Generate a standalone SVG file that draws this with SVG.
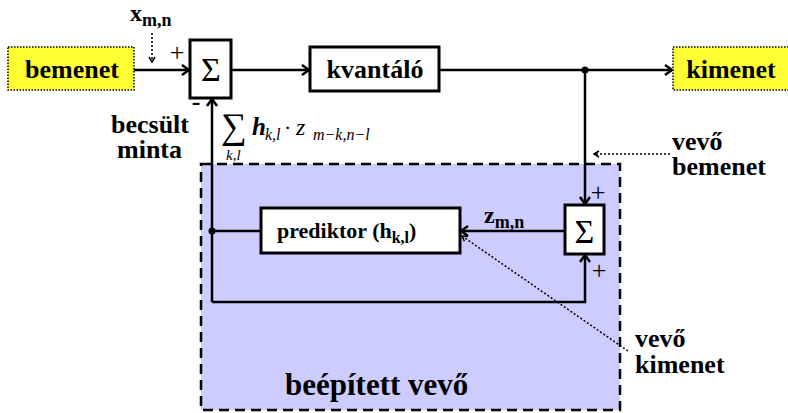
<svg xmlns="http://www.w3.org/2000/svg" width="788" height="413" viewBox="0 0 788 413">
<defs>
<style>
.lbl{font-family:'Liberation Serif','Times New Roman',serif;font-weight:bold;fill:#000}
.sig{font-family:'Liberation Serif','Times New Roman',serif;fill:#000}
.math{font-family:'Liberation Serif','Times New Roman',serif;font-style:italic;fill:#000}
.box{fill:#fff;stroke:#000;stroke-width:3}
.io{fill:#ffff33;stroke:#000;stroke-width:1.5;stroke-dasharray:1.5,1.5}
.ln{fill:none;stroke:#000;stroke-width:2.5}
.dot{fill:none;stroke:#000;stroke-width:1.5;stroke-dasharray:2,2}
</style>
<marker id="arr" markerUnits="userSpaceOnUse" markerWidth="12" markerHeight="14" refX="8" refY="6" orient="auto">
<path d="M1,1 L8,6 L1,11" fill="none" stroke="#000" stroke-width="2.5"/>
</marker>
<marker id="arrs" markerUnits="userSpaceOnUse" markerWidth="10" markerHeight="10" refX="6" refY="4" orient="auto">
<path d="M1,1 L6,4 L1,7" fill="none" stroke="#000" stroke-width="1.5"/>
</marker>
</defs>

<g id="receiver">
<rect x="201" y="164" width="419" height="246" fill="#ccccff" stroke="#000" stroke-width="2.5" stroke-dasharray="10,6"/>
<text class="lbl" x="285" y="395" font-size="31">beépített vevő</text>
</g>

<g id="connectors">
<line class="ln" x1="134" y1="70" x2="189" y2="70" marker-end="url(#arr)"/>
<line class="ln" x1="231" y1="70" x2="309" y2="70" marker-end="url(#arr)"/>
<line class="ln" x1="439" y1="70" x2="672" y2="70" marker-end="url(#arr)"/>
<polyline class="ln" points="585,70 585,204" marker-end="url(#arr)"/>
<line class="ln" x1="565" y1="231" x2="461" y2="231" marker-end="url(#arr)"/>
<line class="ln" x1="261" y1="231" x2="212" y2="231"/>
<polyline class="ln" points="212,302 212,99" marker-end="url(#arr)"/>
<polyline class="ln" points="212,302 585,302 585,255" marker-end="url(#arr)"/>
<circle cx="585" cy="70" r="3.5" fill="#000"/>
<circle cx="212" cy="231" r="3.5" fill="#000"/>
<line class="dot" x1="152" y1="33" x2="152" y2="62" marker-end="url(#arrs)"/>
<line class="dot" x1="670" y1="154" x2="594" y2="154" marker-end="url(#arrs)"/>
<line class="dot" x1="628" y1="351" x2="462" y2="236" marker-end="url(#arrs)"/>
</g>

<g id="bemenet">
<rect class="io" x="8" y="47" width="126" height="43"/>
<text class="lbl" x="72" y="78" font-size="26" text-anchor="middle">bemenet</text>
</g>

<g id="kimenet">
<rect class="io" x="673" y="47" width="125" height="43"/>
<text class="lbl" x="731" y="78" font-size="26" text-anchor="middle">kimenet</text>
</g>

<g id="sum1">
<rect class="box" x="190" y="40" width="41" height="58"/>
<text class="sig" x="211" y="81" font-size="34" text-anchor="middle">Σ</text>
<text class="sig" x="177" y="61" font-size="26" text-anchor="middle">+</text>
<text class="lbl" x="196" y="110" font-size="26" text-anchor="middle">-</text>
</g>

<g id="kvantalo">
<rect class="box" x="310" y="47" width="129" height="44"/>
<text class="lbl" x="375" y="78" font-size="26" text-anchor="middle">kvantáló</text>
</g>

<g id="sum2">
<rect class="box" x="565" y="205" width="39" height="49"/>
<text class="sig" x="584.5" y="243" font-size="34" text-anchor="middle">Σ</text>
<text class="sig" x="598" y="201" font-size="26" text-anchor="middle">+</text>
<text class="sig" x="599" y="279" font-size="26" text-anchor="middle">+</text>
</g>

<g id="prediktor">
<rect class="box" x="261" y="208" width="199" height="45"/>
<text class="lbl" x="277" y="238" font-size="22">prediktor (h<tspan font-size="16" dy="5">k,l</tspan><tspan dy="-5">)</tspan></text>
</g>

<g id="labels">
<text class="lbl" x="130" y="21" font-size="24">x<tspan font-size="18" dy="5">m,n</tspan></text>
<text class="lbl" x="484" y="223" font-size="24">z<tspan font-size="18" dy="5">m,n</tspan></text>
<text class="lbl" x="111" y="133" font-size="26">becsült</text>
<text class="lbl" x="117" y="158" font-size="26">minta</text>
<text class="lbl" x="672" y="150" font-size="26">vevő</text>
<text class="lbl" x="672" y="175" font-size="26">bemenet</text>
<text class="lbl" x="635" y="347" font-size="26">vevő</text>
<text class="lbl" x="635" y="373" font-size="26">kimenet</text>
</g>

<g id="formula">
<text class="sig" x="221" y="138" font-size="36">∑</text>
<text class="math" x="226" y="160" font-size="15">k,l</text>
<text class="math" x="252" y="135" font-size="25" font-weight="bold">h</text>
<text class="math" x="265" y="140" font-size="16">k,l</text>
<text class="sig" x="284" y="135" font-size="22">·</text>
<text class="math" x="296" y="135" font-size="24">z</text>
<text class="math" x="313" y="140" font-size="16">m−k,n−l</text>
</g>
</svg>
